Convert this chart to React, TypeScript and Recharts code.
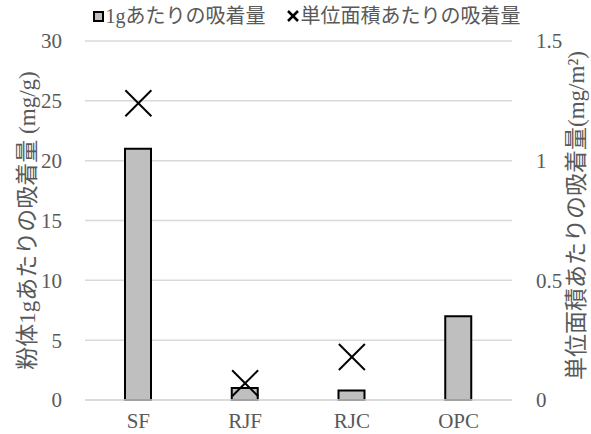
import { ComposedChart, Bar, Scatter, XAxis, YAxis, CartesianGrid, Legend, Label } from 'recharts'

const categories = ['SF', 'RJF', 'RJC', 'OPC']
// 粉体1gあたりの吸着量 (mg/g)
const perGram = [21, 1.0, 0.8, 7]
// 単位面積あたりの吸着量 (mg/m2), OPC has no value
const perArea: (number | null)[] = [1.24, 0.07, 0.18, null]
const leftTicks = [0, 5, 10, 15, 20, 25, 30]
const rightTicks = [0, 0.5, 1, 1.5]

const data = categories.map((c, i) => ({ name: c, gram: perGram[i], area: perArea[i] }))

const FONT = '"Liberation Serif", "Noto Sans CJK JP", serif'
const TEXT = '#595959'

function Cross(props: any) {
  const { cx, cy } = props
  if (cx == null || cy == null || isNaN(cx) || isNaN(cy)) return <g />
  const r = 13
  return (
    <g stroke="#000" strokeWidth={2}>
      <line x1={cx - r} y1={cy - r} x2={cx + r} y2={cy + r} />
      <line x1={cx - r} y1={cy + r} x2={cx + r} y2={cy - r} />
    </g>
  )
}

function LegendRow() {
  return (
    <div style={{ display: 'flex', justifyContent: 'center', alignItems: 'center', fontFamily: FONT, fontSize: 20, lineHeight: '24px', color: TEXT, gap: 20, paddingLeft: 16 }}>
      <span style={{ display: 'flex', alignItems: 'center' }}>
        <svg width={11} height={11} style={{ marginRight: 2 }}>
          <rect x={1} y={1} width={9} height={9} fill="#bfbfbf" stroke="#000" strokeWidth={2} />
        </svg>
        1gあたりの吸着量
      </span>
      <span style={{ display: 'flex', alignItems: 'center' }}>
        <svg width={14} height={14} style={{ marginRight: 1 }}>
          <g stroke="#000" strokeWidth={2.5}>
            <line x1={2} y1={2} x2={12} y2={12} />
            <line x1={2} y1={12} x2={12} y2={2} />
          </g>
        </svg>
        単位面積あたりの吸着量
      </span>
    </div>
  )
}

export default function App() {
  return (
    <div style={{ position: 'absolute', left: 0, top: 0, background: '#fff' }}>
      <ComposedChart width={591} height={434} data={data} margin={{ top: 17, right: 34, left: 40, bottom: 4 }}>
        <CartesianGrid vertical={false} stroke="#d9d9d9" strokeWidth={1.5} yAxisId="left" />
        <XAxis
          dataKey="name"
          axisLine={{ stroke: '#d9d9d9', strokeWidth: 1.5 }}
          tickLine={false}
          height={30}
          tick={{ fontFamily: FONT, fontSize: 21, fill: TEXT }}
          tickMargin={7}
        />
        <YAxis
          yAxisId="left"
          domain={[0, 30]}
          ticks={leftTicks}
          axisLine={false}
          tickLine={false}
          width={45}
          tick={{ fontFamily: FONT, fontSize: 21, fill: TEXT }}
          tickMargin={17}
        >
          <Label
            angle={-90}
            position="insideLeft"
            value="粉体1gあたりの吸着量 (mg/g)"
            offset={-13}
            style={{ fontFamily: FONT, fontSize: 23, fill: TEXT, textAnchor: 'middle' }}
          />
        </YAxis>
        <YAxis
          yAxisId="right"
          orientation="right"
          domain={[0, 1.5]}
          ticks={rightTicks}
          axisLine={false}
          tickLine={false}
          width={45}
          tick={{ fontFamily: FONT, fontSize: 21, fill: TEXT, textAnchor: 'start' }}
          tickMargin={18}
        >
          <Label
            angle={-90}
            position="insideRight"
            value="単位面積あたりの吸着量(mg/m²)"
            offset={-19}
            dy={-5}
            style={{ fontFamily: FONT, fontSize: 23, fill: TEXT, textAnchor: 'middle' }}
          />
        </YAxis>
        <Legend verticalAlign="top" content={() => <LegendRow />} wrapperStyle={{ top: 4 }} />
        <Bar
          yAxisId="left"
          dataKey="gram"
          name="1gあたりの吸着量"
          fill="#bfbfbf"
          stroke="#000"
          strokeWidth={2}
          barSize={26}
          isAnimationActive={false}
        />
        <Scatter
          yAxisId="right"
          dataKey="area"
          name="単位面積あたりの吸着量"
          shape={<Cross />}
          isAnimationActive={false}
        />
      </ComposedChart>
    </div>
  )
}
